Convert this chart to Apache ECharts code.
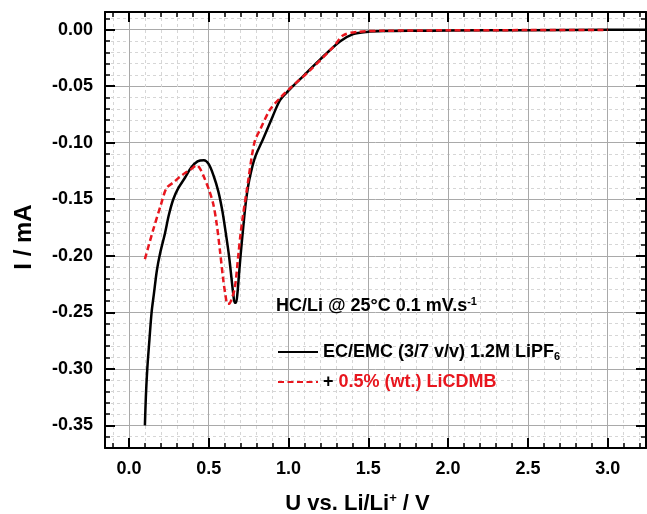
<!DOCTYPE html>
<html>
<head>
<meta charset="utf-8">
<script src="https://cdn.jsdelivr.net/npm/echarts@6/dist/echarts.min.js"></script>
<style>html,body{margin:0;padding:0;background:#fff;}#c{width:647px;height:514px;}</style>
</head>
<body>
<div id="c"></div>
<script>
// ---- data ----
const blackV = [0.10, 0.106, 0.115, 0.128, 0.142, 0.157, 0.175, 0.195, 0.226, 0.25, 0.278, 0.31, 0.351, 0.39, 0.43, 0.47, 0.50, 0.53, 0.56, 0.585, 0.607, 0.627, 0.642, 0.654, 0.663, 0.671, 0.68, 0.69, 0.70, 0.716, 0.733, 0.754, 0.79, 0.84, 0.90, 0.946, 1.0, 1.071, 1.197, 1.322, 1.405, 1.49, 1.6, 1.8, 2.0, 2.5, 3.0, 3.24];
const blackI = [-0.350, -0.325, -0.300, -0.275, -0.250, -0.233, -0.213, -0.198, -0.180, -0.164, -0.150, -0.140, -0.131, -0.122, -0.1165, -0.1155, -0.119, -0.129, -0.143, -0.160, -0.180, -0.200, -0.219, -0.234, -0.2415, -0.2415, -0.233, -0.216, -0.199, -0.175, -0.152, -0.133, -0.113, -0.097, -0.077, -0.0625, -0.054, -0.044, -0.0265, -0.0105, -0.004, -0.002, -0.0013, -0.001, -0.0008, -0.0005, -0.0002, -0.0001];
const redV = [0.10, 0.15, 0.20, 0.236, 0.28, 0.32, 0.36, 0.393, 0.424, 0.45, 0.475, 0.50, 0.528, 0.549, 0.57, 0.59, 0.605, 0.617, 0.628, 0.642, 0.664, 0.685, 0.70, 0.716, 0.748, 0.77, 0.79, 0.82, 0.883, 0.95, 1.009, 1.134, 1.28, 1.343, 1.43, 1.6, 2.0, 2.5, 3.0];
const redI = [-0.203, -0.178, -0.155, -0.140, -0.135, -0.130, -0.126, -0.123, -0.120, -0.124, -0.132, -0.141, -0.154, -0.171, -0.195, -0.220, -0.235, -0.2425, -0.2425, -0.239, -0.228, -0.200, -0.180, -0.163, -0.133, -0.112, -0.098, -0.089, -0.071, -0.060, -0.052, -0.036, -0.0154, -0.005, -0.002, -0.001, -0.0006, -0.0004, -0.0002];

const seriesNames = ['EC/EMC (3/7 v/v) 1.2M LiPF6', '+ 0.5% (wt.) LiCDMB'];

// ---- ticks ----
const xMajorTicks = [0, 0.5, 1.0, 1.5, 2.0, 2.5, 3.0];
const xMinorTicks = [-0.1, 0.1, 0.2, 0.3, 0.4, 0.6, 0.7, 0.8, 0.9, 1.1, 1.2, 1.3, 1.4, 1.6, 1.7, 1.8, 1.9, 2.1, 2.2, 2.3, 2.4, 2.6, 2.7, 2.8, 2.9, 3.1, 3.2];
const yMajorTicks = [-0.35, -0.30, -0.25, -0.20, -0.15, -0.10, -0.05, 0];
const yMinorTicks = [-0.36, -0.34, -0.33, -0.32, -0.31, -0.29, -0.28, -0.27, -0.26, -0.24, -0.23, -0.22, -0.21, -0.19, -0.18, -0.17, -0.16, -0.14, -0.13, -0.12, -0.11, -0.09, -0.08, -0.07, -0.06, -0.04, -0.03, -0.02, -0.01, 0.01];

const X_MIN = -0.15, X_MAX = 3.24, Y_MIN = -0.37, Y_MAX = 0.0156;
const FONT = '"Liberation Sans", Arial, sans-serif';

function pairs(xs, ys) { return xs.map((x, i) => [x, ys[i]]); }

function xAxisDef(pos, major, extra) {
  const ticks = major ? xMajorTicks : xMinorTicks;
  return Object.assign({
    type: 'value', min: X_MIN, max: X_MAX, position: pos, gridIndex: 0,
    axisLine: { show: false, onZero: false },
    axisTick: { show: true, inside: true, length: major ? 10 : 5, customValues: ticks,
      lineStyle: { color: '#000', width: major ? 2 : 1.5 } },
    axisLabel: { show: false },
    splitLine: { show: false }
  }, extra || {});
}
function yAxisDef(pos, major, extra) {
  const ticks = major ? yMajorTicks : yMinorTicks;
  return Object.assign({
    type: 'value', min: Y_MIN, max: Y_MAX, position: pos, gridIndex: 0,
    axisLine: { show: false, onZero: false },
    axisTick: { show: true, inside: true, length: major ? 10 : 5, customValues: ticks,
      lineStyle: { color: '#000', width: major ? 2 : 1.5 } },
    axisLabel: { show: false },
    splitLine: { show: false }
  }, extra || {});
}

const chart = echarts.init(document.getElementById('c'), null, { renderer: 'canvas' });
chart.setOption({
  animation: false,
  backgroundColor: '#fff',
  title: {
    text: '{a|HC/Li @ 25°C 0.1 mV.s}{sup|-1}',
    left: 276, top: 296, padding: 0,
    textStyle: {
      rich: {
        a: { fontSize: 18, fontWeight: 'bold', fontFamily: FONT, color: '#000', lineHeight: 20 },
        sup: { fontSize: 11, fontWeight: 'bold', fontFamily: FONT, color: '#000', lineHeight: 10, verticalAlign: 'top' }
      }
    }
  },
  legend: {
    orient: 'vertical', left: 277, top: 342, padding: 0, itemGap: 10,
    itemWidth: 40, itemHeight: 2,
    data: seriesNames,
    formatter: function (name) {
      if (name === seriesNames[0]) return '{a|EC/EMC (3/7 v/v) 1.2M LiPF}{sub|6}';
      return '{a|+ }{r|0.5% (wt.) LiCDMB}';
    },
    textStyle: {
      lineHeight: 20,
      rich: {
        a: { fontSize: 18, fontWeight: 'bold', fontFamily: FONT, color: '#000', lineHeight: 20 },
        r: { fontSize: 18, fontWeight: 'bold', fontFamily: FONT, color: '#e8161e', lineHeight: 20 },
        sub: { fontSize: 11, fontWeight: 'bold', fontFamily: FONT, color: '#000', lineHeight: 10, verticalAlign: 'bottom' }
      }
    }
  },
  grid: { left: 105, right: 1, top: 12, bottom: 66, containLabel: false, outerBoundsMode: 'none', show: false },
  xAxis: [
    xAxisDef('bottom', true, {
      axisLine: { show: true, onZero: false, lineStyle: { color: '#000', width: 2 } },
      axisLabel: { show: true, customValues: xMajorTicks, margin: 12, fontSize: 18, fontWeight: 'bold',
        fontFamily: FONT, color: '#000', formatter: v => v.toFixed(1) },
      splitLine: { show: true, lineStyle: { color: '#a9a9a9', width: 1 } },
      name: 'U vs. Li/Li{sup|+} / V', nameLocation: 'middle', nameGap: 44,
      nameTextStyle: { fontSize: 22, fontWeight: 'bold', fontFamily: FONT, color: '#000', lineHeight: 24,
        padding: [0, 36, 0, 0],
        rich: { sup: { fontSize: 13, fontWeight: 'bold', fontFamily: FONT, color: '#000', lineHeight: 12, verticalAlign: 'top' } } }
    }),
    xAxisDef('bottom', false, {
      splitLine: { show: true, lineStyle: { color: '#d6d6d6', width: 1, type: [3, 3] } }
    }),
    xAxisDef('top', true, {
      axisLine: { show: true, onZero: false, lineStyle: { color: '#000', width: 2 } }
    }),
    xAxisDef('top', false)
  ],
  yAxis: [
    yAxisDef('left', true, {
      axisLine: { show: true, onZero: false, lineStyle: { color: '#000', width: 2 } },
      axisLabel: { show: true, customValues: yMajorTicks, margin: 12, fontSize: 18, fontWeight: 'bold',
        fontFamily: FONT, color: '#000', formatter: v => v.toFixed(2) },
      splitLine: { show: true, lineStyle: { color: '#a9a9a9', width: 1 } },
      name: 'I / mA', nameLocation: 'middle', nameGap: 68, nameRotate: 90,
      nameTextStyle: { fontSize: 24, fontWeight: 'bold', fontFamily: FONT, color: '#000', lineHeight: 26,
        padding: [0, 14, 0, 0] }
    }),
    yAxisDef('left', false, {
      splitLine: { show: true, lineStyle: { color: '#d6d6d6', width: 1, type: [3, 3] } }
    }),
    yAxisDef('right', true, {
      axisLine: { show: true, onZero: false, lineStyle: { color: '#000', width: 2 } }
    }),
    yAxisDef('right', false)
  ],
  series: [
    {
      name: seriesNames[0], type: 'line', xAxisIndex: 0, yAxisIndex: 0,
      data: pairs(blackV, blackI), showSymbol: false, symbol: 'none', smooth: 0.3,
      lineStyle: { color: '#000', width: 2.5, join: 'round' }, itemStyle: { color: '#000' }, z: 5
    },
    {
      name: seriesNames[1], type: 'line', xAxisIndex: 0, yAxisIndex: 0,
      data: pairs(redV, redI), showSymbol: false, symbol: 'none', smooth: 0.3,
      lineStyle: { color: '#e8161e', width: 2.5, type: [6, 3.5], join: 'round' }, itemStyle: { color: '#e8161e' }, z: 6
    }
  ]
});
</script>
</body>
</html>
